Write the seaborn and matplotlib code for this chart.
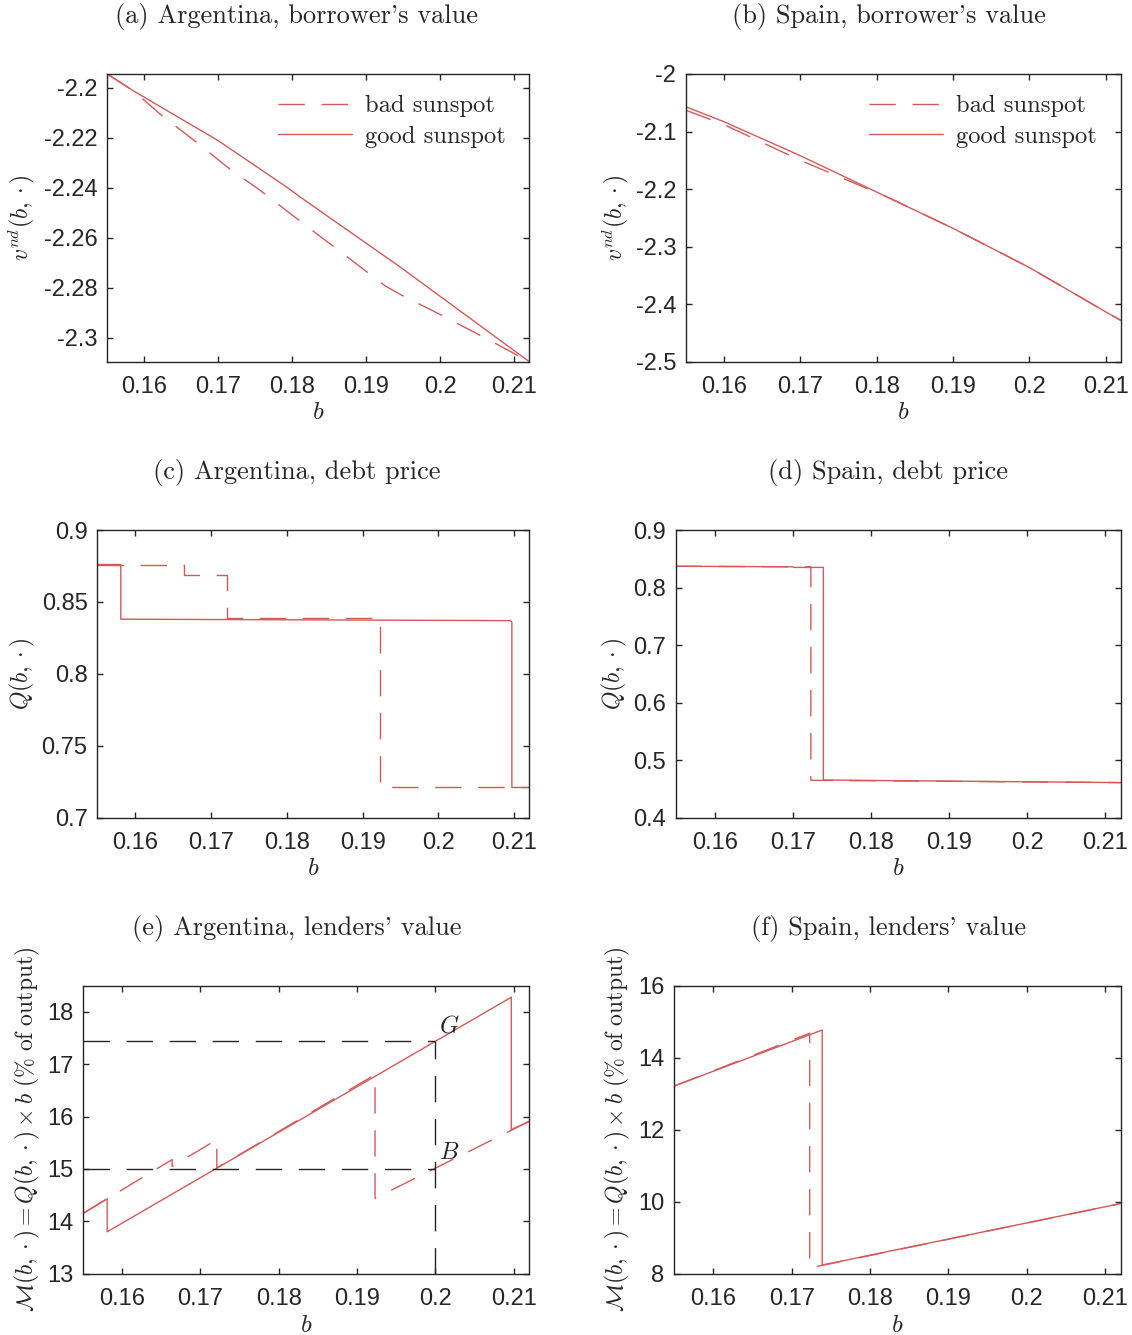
import matplotlib
matplotlib.use('Agg')
import seaborn as sns
import matplotlib.pyplot as plt

# (a) Argentina, borrower's value
arg_v_good_b = [0.155, 0.1585, 0.170, 0.1796, 0.181, 0.1945, 0.212]
arg_v_good = [-2.1945, -2.2012, -2.2212, -2.2405, -2.2436, -2.2716, -2.3096]
arg_v_bad_b = [0.155, 0.1585, 0.1624, 0.1670, 0.1715, 0.1754, 0.1826, 0.1872,
               0.1918, 0.1925, 0.1947, 0.1999, 0.2050, 0.2070, 0.212]
arg_v_bad = [-2.1945, -2.2012, -2.2112, -2.2217, -2.2324, -2.2405, -2.2569, -2.2672,
             -2.2776, -2.2792, -2.2829, -2.2906, -2.2985, -2.3016, -2.3096]

# (b) Spain, borrower's value
sp_v_good_b = [0.155, 0.16, 0.17, 0.18, 0.1812, 0.19, 0.2, 0.21, 0.212]
sp_v_good = [-2.057, -2.083, -2.142, -2.205, -2.2126, -2.268, -2.336, -2.413, -2.428]
sp_v_bad_b = [0.155, 0.16, 0.17, 0.1812, 0.19, 0.2, 0.21, 0.212]
sp_v_bad = [-2.063, -2.088, -2.150, -2.2126, -2.268, -2.336, -2.413, -2.428]

# (c) Argentina, debt price
arg_q_good_b = [0.155, 0.1581, 0.1581, 0.2095, 0.2097, 0.2097, 0.212]
arg_q_good = [0.876, 0.876, 0.838, 0.837, 0.836, 0.721, 0.721]
arg_q_bad_b = [0.155, 0.1664, 0.1664, 0.1721, 0.1721, 0.1923, 0.1923, 0.212]
arg_q_bad = [0.876, 0.876, 0.869, 0.869, 0.839, 0.839, 0.721, 0.721]

# (d) Spain, debt price
sp_q_good_b = [0.155, 0.1700, 0.1701, 0.1739, 0.1739, 0.212]
sp_q_good = [0.837, 0.836, 0.835, 0.835, 0.4655, 0.461]
sp_q_bad_b = [0.155, 0.1723, 0.1723, 0.212]
sp_q_bad = [0.837, 0.836, 0.465, 0.461]

# (e) Argentina, lenders' value
arg_m_good_b = [0.155, 0.1581, 0.1581, 0.2097, 0.2097, 0.212]
arg_m_good = [14.15, 14.43, 13.80, 18.28, 15.75, 15.91]
arg_m_bad_b = [0.155, 0.1664, 0.1664, 0.1721, 0.1721, 0.1923, 0.1923, 0.212]
arg_m_bad = [14.15, 15.18, 15.05, 15.56, 15.02, 16.80, 14.44, 15.91]
ref_b = 0.2
ref_good = 17.45
ref_bad = 15.0

# (f) Spain, lenders' value
sp_m_good_b = [0.155, 0.1739, 0.1739, 0.212]
sp_m_good = [13.21, 14.77, 8.24, 9.95]
sp_m_bad_b = [0.155, 0.1723, 0.1723, 0.212]
sp_m_bad = [13.21, 14.68, 8.16, 9.95]

xticks = [0.16, 0.17, 0.18, 0.19, 0.2, 0.21]
xtick_labels = ['0.16', '0.17', '0.18', '0.19', '0.2', '0.21']
yticks_a = [-2.3, -2.28, -2.26, -2.24, -2.22, -2.2]
ylabels_a = ['-2.3', '-2.28', '-2.26', '-2.24', '-2.22', '-2.2']
yticks_b = [-2.5, -2.4, -2.3, -2.2, -2.1, -2.0]
ylabels_b = ['-2.5', '-2.4', '-2.3', '-2.2', '-2.1', '-2']
yticks_c = [0.7, 0.75, 0.8, 0.85, 0.9]
ylabels_c = ['0.7', '0.75', '0.8', '0.85', '0.9']
yticks_d = [0.4, 0.5, 0.6, 0.7, 0.8, 0.9]
ylabels_d = ['0.4', '0.5', '0.6', '0.7', '0.8', '0.9']
yticks_e = [13, 14, 15, 16, 17, 18]
yticks_f = [8, 10, 12, 14, 16]

titles = ["(a) Argentina, borrower's value", "(b) Spain, borrower's value",
          "(c) Argentina, debt price", "(d) Spain, debt price",
          "(e) Argentina, lenders' value", "(f) Spain, lenders' value"]

RED = '#d45a5a'
DARK = '#262626'
DASH = (0, (19, 12))

sns.set_theme(style='ticks')
plt.rcParams['font.family'] = ['Liberation Sans', 'DejaVu Sans']
plt.rcParams['mathtext.fontset'] = 'cm'
plt.rcParams['axes.unicode_minus'] = False

W, H = 1132, 1335
fig = plt.figure(figsize=(W / 100, H / 100), dpi=100)

# axes boxes in pixels: left, right, top, bottom
boxes = [(107.3, 529.3, 74, 361.7), (686, 1121, 74, 362),
         (97.3, 529.3, 530, 817.7), (675.7, 1121, 530, 817.7),
         (82.9, 529.3, 985.7, 1273.7), (674, 1121, 985.7, 1273.7)]
axes = []
for l, r, t, b in boxes:
    axes.append(fig.add_axes([l / W, 1 - b / H, (r - l) / W, (b - t) / H]))


def draw(ax, bb, yb, bg, yg):
    sns.lineplot(x=bb, y=yb, ax=ax, color=RED, lw=1.0, sort=False,
                 estimator=None, linestyle=DASH, label='bad sunspot', legend=False)
    sns.lineplot(x=bg, y=yg, ax=ax, color=RED, lw=1.0, sort=False,
                 estimator=None, label='good sunspot', legend=False)


draw(axes[0], arg_v_bad_b, arg_v_bad, arg_v_good_b, arg_v_good)
draw(axes[1], sp_v_bad_b, sp_v_bad, sp_v_good_b, sp_v_good)
draw(axes[2], arg_q_bad_b, arg_q_bad, arg_q_good_b, arg_q_good)
draw(axes[3], sp_q_bad_b, sp_q_bad, sp_q_good_b, sp_q_good)
draw(axes[4], arg_m_bad_b, arg_m_bad, arg_m_good_b, arg_m_good)
draw(axes[5], sp_m_bad_b, sp_m_bad, sp_m_good_b, sp_m_good)

# reference lines in (e)
ax = axes[4]
ax.plot([0.155, ref_b], [ref_good, ref_good], color=DARK, lw=1.0, linestyle=DASH)
ax.plot([0.155, ref_b], [ref_bad, ref_bad], color=DARK, lw=1.0, linestyle=DASH)
ax.plot([ref_b, ref_b], [13, ref_good], color=DARK, lw=1.0, linestyle=DASH)
ax.text(ref_b + 0.0005, ref_good + 0.28, '$G$', fontsize=17.5, va='center', ha='left')
ax.text(ref_b + 0.0005, ref_bad + 0.3, '$B$', fontsize=17.5, va='center', ha='left')

ylims = [(-2.3096, -2.1945), (-2.5, -2.0), (0.7, 0.9), (0.4, 0.9), (13, 18.5), (8, 16)]
yt = [(yticks_a, ylabels_a), (yticks_b, ylabels_b), (yticks_c, ylabels_c),
      (yticks_d, ylabels_d), (yticks_e, [str(v) for v in yticks_e]),
      (yticks_f, [str(v) for v in yticks_f])]
ylab = [r'$v^{nd}(b,\cdot)$', r'$v^{nd}(b,\cdot)$', r'$Q(b,\cdot)$', r'$Q(b,\cdot)$',
        r'$\mathcal{M}(b,\cdot) = Q(b,\cdot)\times b\ (\%\ \mathrm{of\ output})$',
        r'$\mathcal{M}(b,\cdot) = Q(b,\cdot)\times b\ (\%\ \mathrm{of\ output})$']
ylab_x = [22, 616, 22, 614, 27, 617]
xlab_y = [412, 412, 868, 868, 1325, 1325]

for i, ax in enumerate(axes):
    l, r, t, b = boxes[i]
    ax.set_xlim(0.155, 0.212)
    ax.set_ylim(*ylims[i])
    ax.set_xticks(xticks)
    ax.set_xticklabels(xtick_labels)
    ax.set_yticks(yt[i][0])
    ax.set_yticklabels(yt[i][1])
    ax.tick_params(direction='in', length=4, width=1, top=True, right=True,
                   color=DARK, labelcolor=DARK, labelsize=17)
    ax.tick_params(axis='x', pad=10)
    ax.tick_params(axis='y', pad=7)
    for s in ax.spines.values():
        s.set_visible(True)
        s.set_color(DARK)
        s.set_linewidth(1.0)
    ax.set_xlabel('$b$', fontsize=18)
    ax.xaxis.label.set_va('center')
    ax.xaxis.set_label_coords(0.5, (b - xlab_y[i]) / (b - t))
    ax.set_ylabel(ylab[i], fontsize=17)
    ax.yaxis.label.set_va('center')
    ax.yaxis.set_label_coords((ylab_x[i] - l) / (r - l), 0.5)

for i in range(2):
    ax = axes[i]
    l, r, t, b = boxes[i]
    hx = 278 if i == 0 else 869
    ax.legend(loc='upper left', bbox_to_anchor=((hx - l) / (r - l), (b - 95) / (b - t)),
              frameon=False, borderpad=0, borderaxespad=0, handlelength=3.0,
              handletextpad=0.55, labelspacing=0.33, prop={'family': 'cmr10', 'size': 17.7})

cap_x = [296.5, 888.5]
cap_y = [17, 472, 928]
for i, title in enumerate(titles):
    fig.text(cap_x[i % 2] / W, 1 - cap_y[i // 2] / H, title, family='cmr10',
             fontsize=19, ha='center', va='center')

fig.savefig('out.png', dpi=100)
